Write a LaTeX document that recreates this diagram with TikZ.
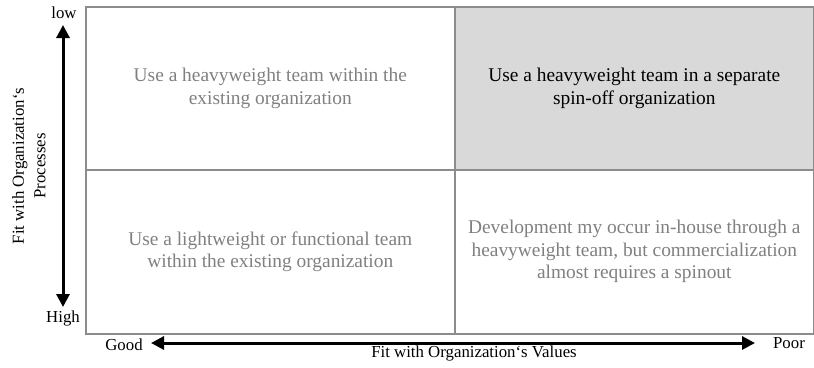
\documentclass[tikz,border=0pt]{standalone}
\usepackage{fontspec}
\setmainfont{Liberation Serif}
\usepackage{tikz}
\usetikzlibrary{positioning, arrows.meta}

\definecolor{gridgray}{HTML}{8C8C8C}
\definecolor{cellgray}{HTML}{D9D9D9}
\definecolor{textgray}{HTML}{808080}

\begin{document}
\begin{tikzpicture}[x=1pt, y=-1pt, >={Triangle[length=13pt, width=13pt]},
    cell/.style={draw=gridgray, line width=1.6pt, rectangle, anchor=north west,
        inner sep=0pt, align=center, font=\fontsize{19.4}{22.5}\selectfont},
    axislabel/.style={font=\fontsize{16.8}{21.5}\selectfont}]
    \useasboundingbox (0,0) rectangle (814,367);

    % the four cells
    \node [cell, minimum width=369pt, minimum height=163pt, text=textgray] (tl) at (85,6)
        {Use a heavyweight team within the\\ existing organization};
    \node [cell, minimum width=359pt, minimum height=163pt, fill=cellgray] (tr) at (454,6)
        {Use a heavyweight team in a separate\\ spin-off organization};
    \node [cell, minimum width=369pt, minimum height=164pt, text=textgray] (bl) at (85,169)
        {Use a lightweight or functional team\\ within the existing organization};
    \node [cell, minimum width=359pt, minimum height=164pt, text=textgray] (br) at (454,169)
        {Development my occur in-house through a\\ heavyweight team, but commercialization\\ almost requires a spinout};

    % vertical axis
    \node [axislabel] (low) at (64,13) {low};
    \node [axislabel] (high) at (63,318) {High};
    \node [axislabel, rotate=90, align=center] (proc) at (29,166)
        {Fit with Organization`s\\ Processes};
    \coordinate (la) at (63,25);
    \coordinate (ha) at (63,307);
    \draw [<->, line width=3pt] (la) -- (ha);

    % horizontal axis
    \node [axislabel] (good) at (124,345) {Good};
    \node [axislabel] (poor) at (789,343) {Poor};
    \node [axislabel] (vals) at (474,353) {Fit with Organization`s Values};
    \coordinate (ga) at (151,343);
    \coordinate (pa) at (755,343);
    \draw [<->, line width=3pt] (ga) -- (pa);
\end{tikzpicture}
\end{document}
